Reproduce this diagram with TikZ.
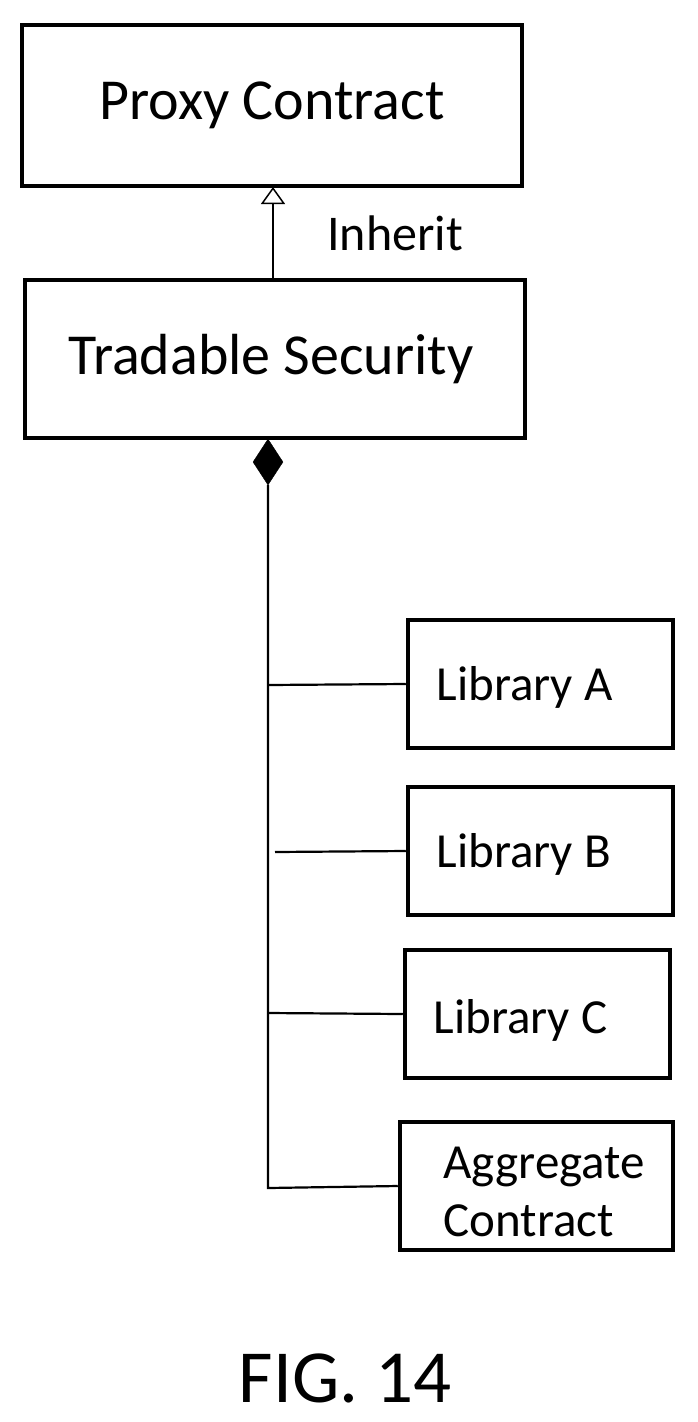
\documentclass[tikz,border=0pt]{standalone}
\usepackage{fontspec}
\setmainfont{Carlito}
\usetikzlibrary{arrows.meta,shapes.geometric}
\begin{document}
\begin{tikzpicture}[x=1pt,y=-1pt,
  box/.style={draw,line width=4.5pt,inner sep=0pt},
  conn/.style={line width=2.2pt},
  lbl/.style={font=\fontsize{49}{58}\selectfont,anchor=west}]
\useasboundingbox (0,0) rectangle (697,1422);
\node[box,minimum width=500pt,minimum height=161pt,font=\fontsize{58}{64}\selectfont] (proxy) at (272,105.5) {Proxy Contract};
\node[box,minimum width=500pt,minimum height=158pt,font=\fontsize{58}{64}\selectfont] (trad) at (275,359) {Tradable Security\hspace*{8pt}};
\draw[conn,-{Triangle[open,length=17pt,width=24pt,line width=1.5pt]}] (273,280) -- (273,187);
\node[font=\fontsize{50}{56}\selectfont] (inh) at (395,233) {Inherit};
\node[diamond,fill=black,draw,minimum width=30pt,minimum height=46pt,inner sep=0pt] (dia) at (268,462) {};
\node[box,minimum width=265pt,minimum height=128pt] (la) at (540.5,684) {};
\node[box,minimum width=265pt,minimum height=128pt] (lb) at (540.5,851) {};
\node[box,minimum width=265pt,minimum height=128pt] (lc) at (537.5,1014) {};
\node[box,minimum width=273pt,minimum height=128pt] (ag) at (536.5,1186) {};
\node[lbl] (tla) at (433,687) {Library A};
\node[lbl] (tlb) at (433,854) {Library B};
\node[lbl] (tlc) at (430,1020) {Library C};
\node[lbl,align=left,font=\fontsize{49}{58}\selectfont] (tag) at (440,1192) {Aggregate\\Contract};
\coordinate (bot) at (268,1188);
\draw[conn] (dia.south) -- (bot) -- (ag.west);
\draw[conn] (268,685) -- (la.west);
\draw[conn] (275,852) -- (lb.west);
\draw[conn] (268,1013) -- (lc.west);
\node[font=\fontsize{75}{84}\selectfont] (fig) at (345,1378) {FIG. 14};
\end{tikzpicture}
\end{document}
